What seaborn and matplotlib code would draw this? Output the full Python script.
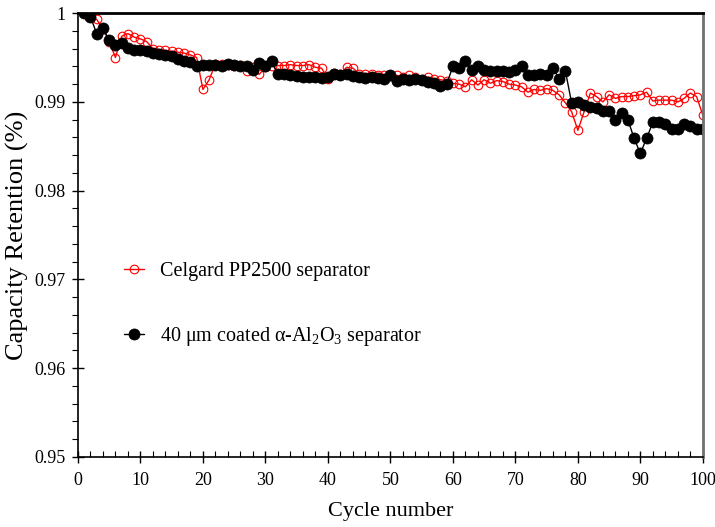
import numpy as np
import pandas as pd
import matplotlib
matplotlib.use("Agg")
import matplotlib.pyplot as plt
from matplotlib.ticker import MultipleLocator, FixedLocator
import seaborn as sns

cycles = list(range(1, 101))

celgard = [
    1.0000, 0.9996, 0.9993, 0.9982, 0.9968, 0.9950, 0.9974, 0.9977, 0.9973, 0.9971,
    0.9968, 0.9960, 0.9959, 0.9958, 0.9957, 0.9956, 0.9955, 0.9953, 0.9950, 0.9914,
    0.9925, 0.9943, 0.9943, 0.9942, 0.9941, 0.9942, 0.9935, 0.9939, 0.9931, 0.9939,
    0.9941, 0.9941, 0.9941, 0.9942, 0.9941, 0.9941, 0.9942, 0.9939, 0.9938, 0.9926,
    0.9933, 0.9932, 0.9939, 0.9938, 0.9932, 0.9932, 0.9932, 0.9930, 0.9930, 0.9929,
    0.9930, 0.9928, 0.9930, 0.9928, 0.9926, 0.9928, 0.9926, 0.9925, 0.9924, 0.9921,
    0.9920, 0.9917, 0.9925, 0.9919, 0.9925, 0.9921, 0.9924, 0.9923, 0.9920, 0.9919,
    0.9917, 0.9911, 0.9914, 0.9913, 0.9915, 0.9913, 0.9908, 0.9899, 0.9889, 0.9868,
    0.9889, 0.9910, 0.9906, 0.9900, 0.9908, 0.9904, 0.9906, 0.9906, 0.9907, 0.9908,
    0.9911, 0.9901, 0.9902, 0.9902, 0.9902, 0.9900, 0.9904, 0.9910, 0.9906, 0.9885,
]

coated = [
    1.0000, 0.9996, 0.9977, 0.9983, 0.9970, 0.9964, 0.9966, 0.9961, 0.9958, 0.9958,
    0.9957, 0.9955, 0.9954, 0.9953, 0.9952, 0.9948, 0.9946, 0.9945, 0.9940, 0.9942,
    0.9942, 0.9942, 0.9940, 0.9943, 0.9942, 0.9941, 0.9940, 0.9936, 0.9944, 0.9941,
    0.9946, 0.9931, 0.9931, 0.9930, 0.9929, 0.9928, 0.9928, 0.9928, 0.9927, 0.9928,
    0.9932, 0.9930, 0.9932, 0.9929, 0.9928, 0.9927, 0.9928, 0.9927, 0.9926, 0.9930,
    0.9924, 0.9926, 0.9925, 0.9926, 0.9925, 0.9923, 0.9921, 0.9918, 0.9920, 0.9940,
    0.9938, 0.9946, 0.9936, 0.9941, 0.9936, 0.9935, 0.9935, 0.9935, 0.9934, 0.9936,
    0.9941, 0.9930, 0.9930, 0.9931, 0.9930, 0.9938, 0.9926, 0.9935, 0.9899, 0.9900,
    0.9896, 0.9894, 0.9893, 0.9890, 0.9890, 0.9880, 0.9887, 0.9880, 0.9859, 0.9842,
    0.9859, 0.9877, 0.9877, 0.9875, 0.9870, 0.9870, 0.9875, 0.9873, 0.9870, 0.9870,
]

label_celgard = "Celgard PP2500 separator"
label_coated = "40 \u03bcm coated \u03b1-Al$_2$O$_3$ separator"

x_ticks = [0, 10, 20, 30, 40, 50, 60, 70, 80, 90, 100]
y_ticks = [0.95, 0.96, 0.97, 0.98, 0.99, 1.0]
y_tick_labels = ["0.95", "0.96", "0.97", "0.98", "0.99", "1"]

df_a = pd.DataFrame({"cycle": cycles, "value": celgard})
df_b = pd.DataFrame({"cycle": cycles, "value": coated})

sns.set_style("ticks")
plt.rcParams["font.family"] = ["Liberation Serif", "DejaVu Serif"]
plt.rcParams["mathtext.fontset"] = "custom"
plt.rcParams["mathtext.rm"] = "Liberation Serif"
plt.rcParams["mathtext.it"] = "Liberation Serif:italic"
plt.rcParams["mathtext.default"] = "regular"
plt.rcParams["text.color"] = "black"
plt.rcParams["axes.labelcolor"] = "black"
plt.rcParams["xtick.color"] = "black"
plt.rcParams["ytick.color"] = "black"

fig = plt.figure(figsize=(7.15, 5.27), dpi=100)
ax = fig.add_axes([0.109, 0.133, 0.874, 0.842])

sns.lineplot(data=df_a, x="cycle", y="value", ax=ax, color="#ff0000", lw=1.0,
             marker="o", markersize=6.2, markerfacecolor="none",
             markeredgecolor="#ff0000", markeredgewidth=0.8, label=label_celgard)
sns.lineplot(data=df_b, x="cycle", y="value", ax=ax, color="black", lw=1.0,
             marker="o", markersize=8, markerfacecolor="black",
             markeredgecolor="black", markeredgewidth=0.5, label=label_coated)

ax.set_xlim(0, 100)
ax.set_ylim(0.95, 1.0)
ax.xaxis.set_major_locator(FixedLocator(x_ticks))
ax.xaxis.set_minor_locator(MultipleLocator(2))
ax.yaxis.set_major_locator(FixedLocator(y_ticks))
ax.set_yticklabels(y_tick_labels)
ax.yaxis.set_minor_locator(MultipleLocator(0.002))

ax.tick_params(axis="x", which="major", direction="inout", length=8, width=1, labelsize=13, pad=7)
ax.tick_params(axis="x", which="minor", direction="in", length=4, width=0.8)
ax.tick_params(axis="y", which="major", direction="inout", length=8, width=1, labelsize=13, pad=5)
ax.tick_params(axis="y", which="minor", direction="out", length=4, width=0.8)

for side in ["left", "bottom"]:
    ax.spines[side].set_color("black")
    ax.spines[side].set_linewidth(1.2)
ax.spines["top"].set_color("black")
ax.spines["top"].set_linewidth(2.0)
ax.spines["right"].set_color("#707070")
ax.spines["right"].set_linewidth(2.0)

ax.set_xlabel("Cycle number", fontsize=16, labelpad=9)
ax.set_ylabel("Capacity Retention (%)", fontsize=19, labelpad=4)

ax.legend(loc="center left", bbox_to_anchor=(0.045, 0.342), frameon=False,
          fontsize=14.5, labelspacing=2.2, handlelength=1.0, handletextpad=0.8)

fig.savefig("out.png", dpi=100)
